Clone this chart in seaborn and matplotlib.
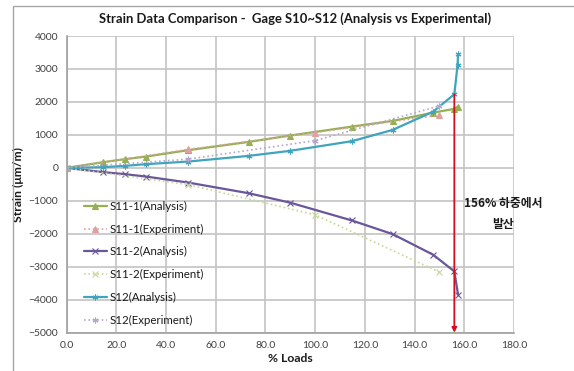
import matplotlib
matplotlib.use("Agg")
import matplotlib.pyplot as plt
import seaborn as sns
import numpy as np
from matplotlib.patches import Rectangle

sns.set_theme(style="white")
plt.rcParams['font.family'] = ['Lato', 'Noto Sans CJK KR', 'DejaVu Sans']

# ---- data ----
load_an = [0, 14.8, 23.5, 31.9, 48.9, 73.3, 89.8, 114.8, 131.2, 147.5, 156.0, 157.5]
s11_1_an = [0, 173, 264, 342, 536, 788, 979, 1252, 1424, 1676, 1790, 1860]
s11_2_an = [0, -130, -191, -263, -445, -770, -1052, -1596, -2010, -2636, -3141, -3848]
load_s12_an = [0, 14.8, 23.5, 31.9, 48.9, 73.3, 89.8, 114.8, 131.2, 147.5, 156.0, 157.3, 157.5]
s12_an = [0, 21, 60, 112, 191, 364, 515, 809, 1152, 1706, 2233, 3120, 3450]

load_ex = [0, 48.9, 100.0, 150.0]
s11_1_ex = [0, 560, 1070, 1606]
s11_2_ex = [0, -510, -1424, -3162]
s12_ex = [0, 264, 827, 1879]

labels = ["S11-1(Analysis)", "S11-1(Experiment)", "S11-2(Analysis)",
          "S11-2(Experiment)", "S12(Analysis)", "S12(Experiment)"]
x_ticks = [0, 20, 40, 60, 80, 100, 120, 140, 160, 180]
y_ticks = [4000, 3000, 2000, 1000, 0, -1000, -2000, -3000, -4000, -5000]
diverge_load = 156.0
diverge_top = 2233

fig = plt.figure(figsize=(5.74, 3.71), dpi=100)
ax = fig.add_axes([66.5/574, 1-332.7/371, (514-66.5)/574, (332.7-36)/371])

# outer frame
fig.patches.append(Rectangle((13/574, -0.1), 1.2, 1-6/371+0.1, transform=fig.transFigure,
                             fill=False, edgecolor='#a6a6a6', lw=1.0, zorder=0))

star = (6, 2, 0)
series = [
    (load_an, s11_1_an, labels[0], '#94B053', '-', '^', 1.6),
    (load_ex, s11_1_ex, labels[1], '#E0A0A0', ':', '^', 1.2),
    (load_an, s11_2_an, labels[2], '#6A5699', '-', 'x', 1.6),
    (load_ex, s11_2_ex, labels[3], '#C6D89A', ':', 'x', 1.2),
    (load_s12_an, s12_an, labels[4], '#3FA4BE', '-', star, 1.6),
    (load_ex, s12_ex, labels[5], '#B5A6CE', ':', star, 1.2),
]
for xs, ys, lab, col, ls, mk, lw in series:
    sns.lineplot(x=xs, y=ys, ax=ax, color=col, linestyle=ls, marker=mk, lw=lw,
                 markersize=4.2, markeredgecolor=col, markerfacecolor=col,
                 markeredgewidth=0.8, label=lab, sort=False, estimator=None)

ax.set_xlim(0, 180)
ax.set_ylim(-5000, 4000)
ax.set_xticks(x_ticks)
ax.set_xticklabels([f"{v:.1f}" for v in x_ticks])
ax.set_yticks(y_ticks)
ax.grid(True, color='#c4c4c4', lw=1.2)
ax.set_axisbelow(True)
for s in ['top', 'right']:
    ax.spines[s].set_visible(False)
for s in ['left', 'bottom']:
    ax.spines[s].set_color('#a0a0a0')
    ax.spines[s].set_linewidth(1.2)
ax.tick_params(axis='both', labelsize=7.5, colors='#404040', length=3, width=1,
               direction='out', pad=3)
ax.tick_params(axis='both', color='#a0a0a0')

ax.set_xlabel("% Loads", fontsize=8.7, fontweight='bold', color='#1a1a1a', labelpad=2)
ax.set_ylabel("Strain (μm/m)", fontsize=8.7, fontweight='bold', color='#1a1a1a', labelpad=3)
fig.text(295/574, 1-19/371, "Strain Data Comparison -  Gage S10~S12 (Analysis vs Experimental)",
         ha='center', va='center', fontsize=9.4, fontweight='bold', color='#1a1a1a')

# divergence arrow
ax.annotate("", xy=(diverge_load, -5000), xytext=(diverge_load, diverge_top),
            arrowprops=dict(arrowstyle='-|>', color='#D40E1E', lw=1.3,
                            mutation_scale=7, shrinkA=0, shrinkB=0))
ax.text(175.7, -1090, "156% 하중에서", ha='center', va='center', fontsize=8.5,
        fontweight='bold', color='#1a1a1a', family=['Noto Sans CJK KR', 'DejaVu Sans'])
ax.text(175.7, -1727, "발산", ha='center', va='center', fontsize=8.5,
        fontweight='bold', color='#1a1a1a', family=['Noto Sans CJK KR', 'DejaVu Sans'])

leg = ax.legend(loc='upper left', bbox_to_anchor=(78/574, 1-195/371),
                bbox_transform=fig.transFigure, frameon=False, fontsize=8.3,
                labelspacing=1.02, handlelength=2.0, handletextpad=0.2, borderpad=0)
for t in leg.get_texts():
    t.set_color('#1a1a1a')

fig.savefig("out.png", dpi=100)
